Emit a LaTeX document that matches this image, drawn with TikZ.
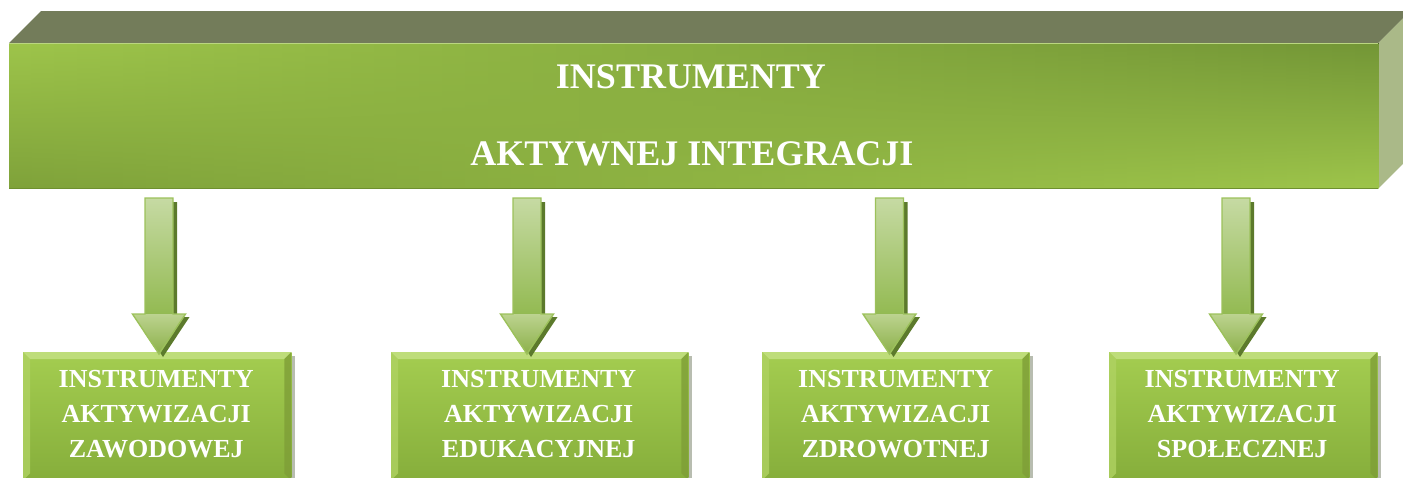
\documentclass[tikz,border=0pt]{standalone}
\usepackage{fontspec}
\setmainfont{Liberation Serif}
\usetikzlibrary{calc}
\definecolor{topface}{HTML}{737C5A}
\definecolor{sideface}{HTML}{AAB988}
\definecolor{frontlight}{HTML}{9DC44A}
\definecolor{frontdark}{HTML}{739636}
\definecolor{frontbl}{HTML}{7FA23A}
\definecolor{frontedge}{HTML}{6E902F}
\definecolor{boxtop}{HTML}{A4CD50}
\definecolor{boxbot}{HTML}{86AE3B}
\definecolor{bevlight}{HTML}{BEDD7A}
\definecolor{bevleft}{HTML}{AFD262}
\definecolor{bevright}{HTML}{7E9E37}
\definecolor{boxshadow}{HTML}{B8BDB0}
\definecolor{arrtop}{HTML}{C6DAA3}
\definecolor{arrmid}{HTML}{93BA52}
\definecolor{headtop}{HTML}{BCD38F}
\definecolor{headbot}{HTML}{8CB04A}
\definecolor{arredge}{HTML}{9CC15B}
\definecolor{arrshadow}{HTML}{5C7A2C}
\tikzset{
  bartext/.style={text=white, font=\fontsize{36}{40}\selectfont\bfseries, inner sep=0pt, anchor=base},
  boxtext/.style={text=white, font=\fontsize{26}{35}\selectfont\bfseries, inner sep=0pt, align=center, anchor=north},
  boxframe/.style={inner sep=0pt, anchor=north west, minimum height=128pt},
  bigarrow/.pic={
    \fill[arrshadow] (4,3) -- (-22.5,-37) -- (-10,-37) -- (-10,-152) -- (18,-152) -- (18,-37) -- (30.5,-37) -- cycle;
    \fill[top color=arrtop, bottom color=arrmid] (-14,-40) rectangle (14,-156);
    \fill[top color=headtop, bottom color=headbot] (0,0) -- (-26.5,-40) -- (26.5,-40) -- cycle;
    \draw[arredge, line width=1.4pt, line join=miter] (0,0) -- (-26.5,-40) -- (-14,-40) -- (-14,-156) -- (14,-156) -- (14,-40) -- (26.5,-40) -- cycle;
  }
}
\begin{document}
\begin{tikzpicture}[x=1pt,y=-1pt]
\useasboundingbox (0,0) rectangle (1403,477);
\clip (0,0) rectangle (1403,477);
% top bar
\node[inner sep=0pt, anchor=north west, minimum width=1369pt, minimum height=145pt] (top) at (9,43) {};
\fill[topface] (top.north west) -- ++(32,-32) -- ($(top.north east)+(32,-32)$) -- (top.north east) -- cycle;
\fill[sideface] (top.north east) -- ++(32,-32) -- ($(top.south east)+(32,-32)$) -- (top.south east) -- cycle;
\foreach \i in {0,...,59}{
  \pgfmathsetmacro{\p}{100*\i/59}
  \pgfmathsetmacro{\xa}{9+22.8167*\i}
  \pgfmathsetmacro{\xb}{9+22.8167*\i+23.4}
  \fill[top color=frontdark!\p!frontlight, bottom color=frontlight!\p!frontbl] (\xa,43) rectangle (\xb,188);
}
\draw[frontedge, line width=1.2pt] (top.south west) -- (top.south east);
\draw[frontlight!70!white, line width=0.8pt] (top.north west) -- (top.north east);
\node[bartext] (t1) at (691,88) {INSTRUMENTY};
\node[bartext] (t2) at (692,165) {AKTYWNEJ INTEGRACJI};
% boxes
\node[boxframe, minimum width=268pt] (b1) at (23,352) {};
\node[boxframe, minimum width=297pt] (b2) at (391,352) {};
\node[boxframe, minimum width=267pt] (b3) at (762,352) {};
\node[boxframe, minimum width=268pt] (b4) at (1109,352) {};
\foreach \b in {b1,b2,b3,b4}{
  \fill[boxshadow] ($(\b.north east)+(0,4)$) rectangle ($(\b.south east)+(4,0)$);
  \fill[top color=boxtop, bottom color=boxbot] (\b.north west) rectangle (\b.south east);
  \fill[bevlight] (\b.north west) -- (\b.north east) -- ($(\b.north east)+(-7,7)$) -- ($(\b.north west)+(7,7)$) -- cycle;
  \fill[bevleft, opacity=0.8] (\b.north west) -- ($(\b.north west)+(7,7)$) -- ($(\b.south west)+(7,-7)$) -- (\b.south west) -- cycle;
  \fill[bevright, opacity=0.8] (\b.north east) -- ($(\b.north east)+(-7,7)$) -- ($(\b.south east)+(-7,-7)$) -- (\b.south east) -- cycle;
}
\node[boxtext] (l1) at ($(b1.north)+(-1,18)$) {INSTRUMENTY\\AKTYWIZACJI\\ZAWODOWEJ};
\node[boxtext] (l2) at ($(b2.north)+(-1,18)$) {INSTRUMENTY\\AKTYWIZACJI\\EDUKACYJNEJ};
\node[boxtext] (l3) at ($(b3.north)+(0,18)$) {INSTRUMENTY\\AKTYWIZACJI\\ZDROWOTNEJ};
\node[boxtext] (l4) at ($(b4.north)+(-1,18)$) {INSTRUMENTY\\AKTYWIZACJI\\SPOŁECZNEJ};
% arrows
\coordinate (a1) at (159,354);
\coordinate (a2) at (527,354);
\coordinate (a3) at (889.5,354);
\coordinate (a4) at (1236,354);
\foreach \a in {a1,a2,a3,a4}{ \pic at (\a) {bigarrow}; }
\end{tikzpicture}
\end{document}
